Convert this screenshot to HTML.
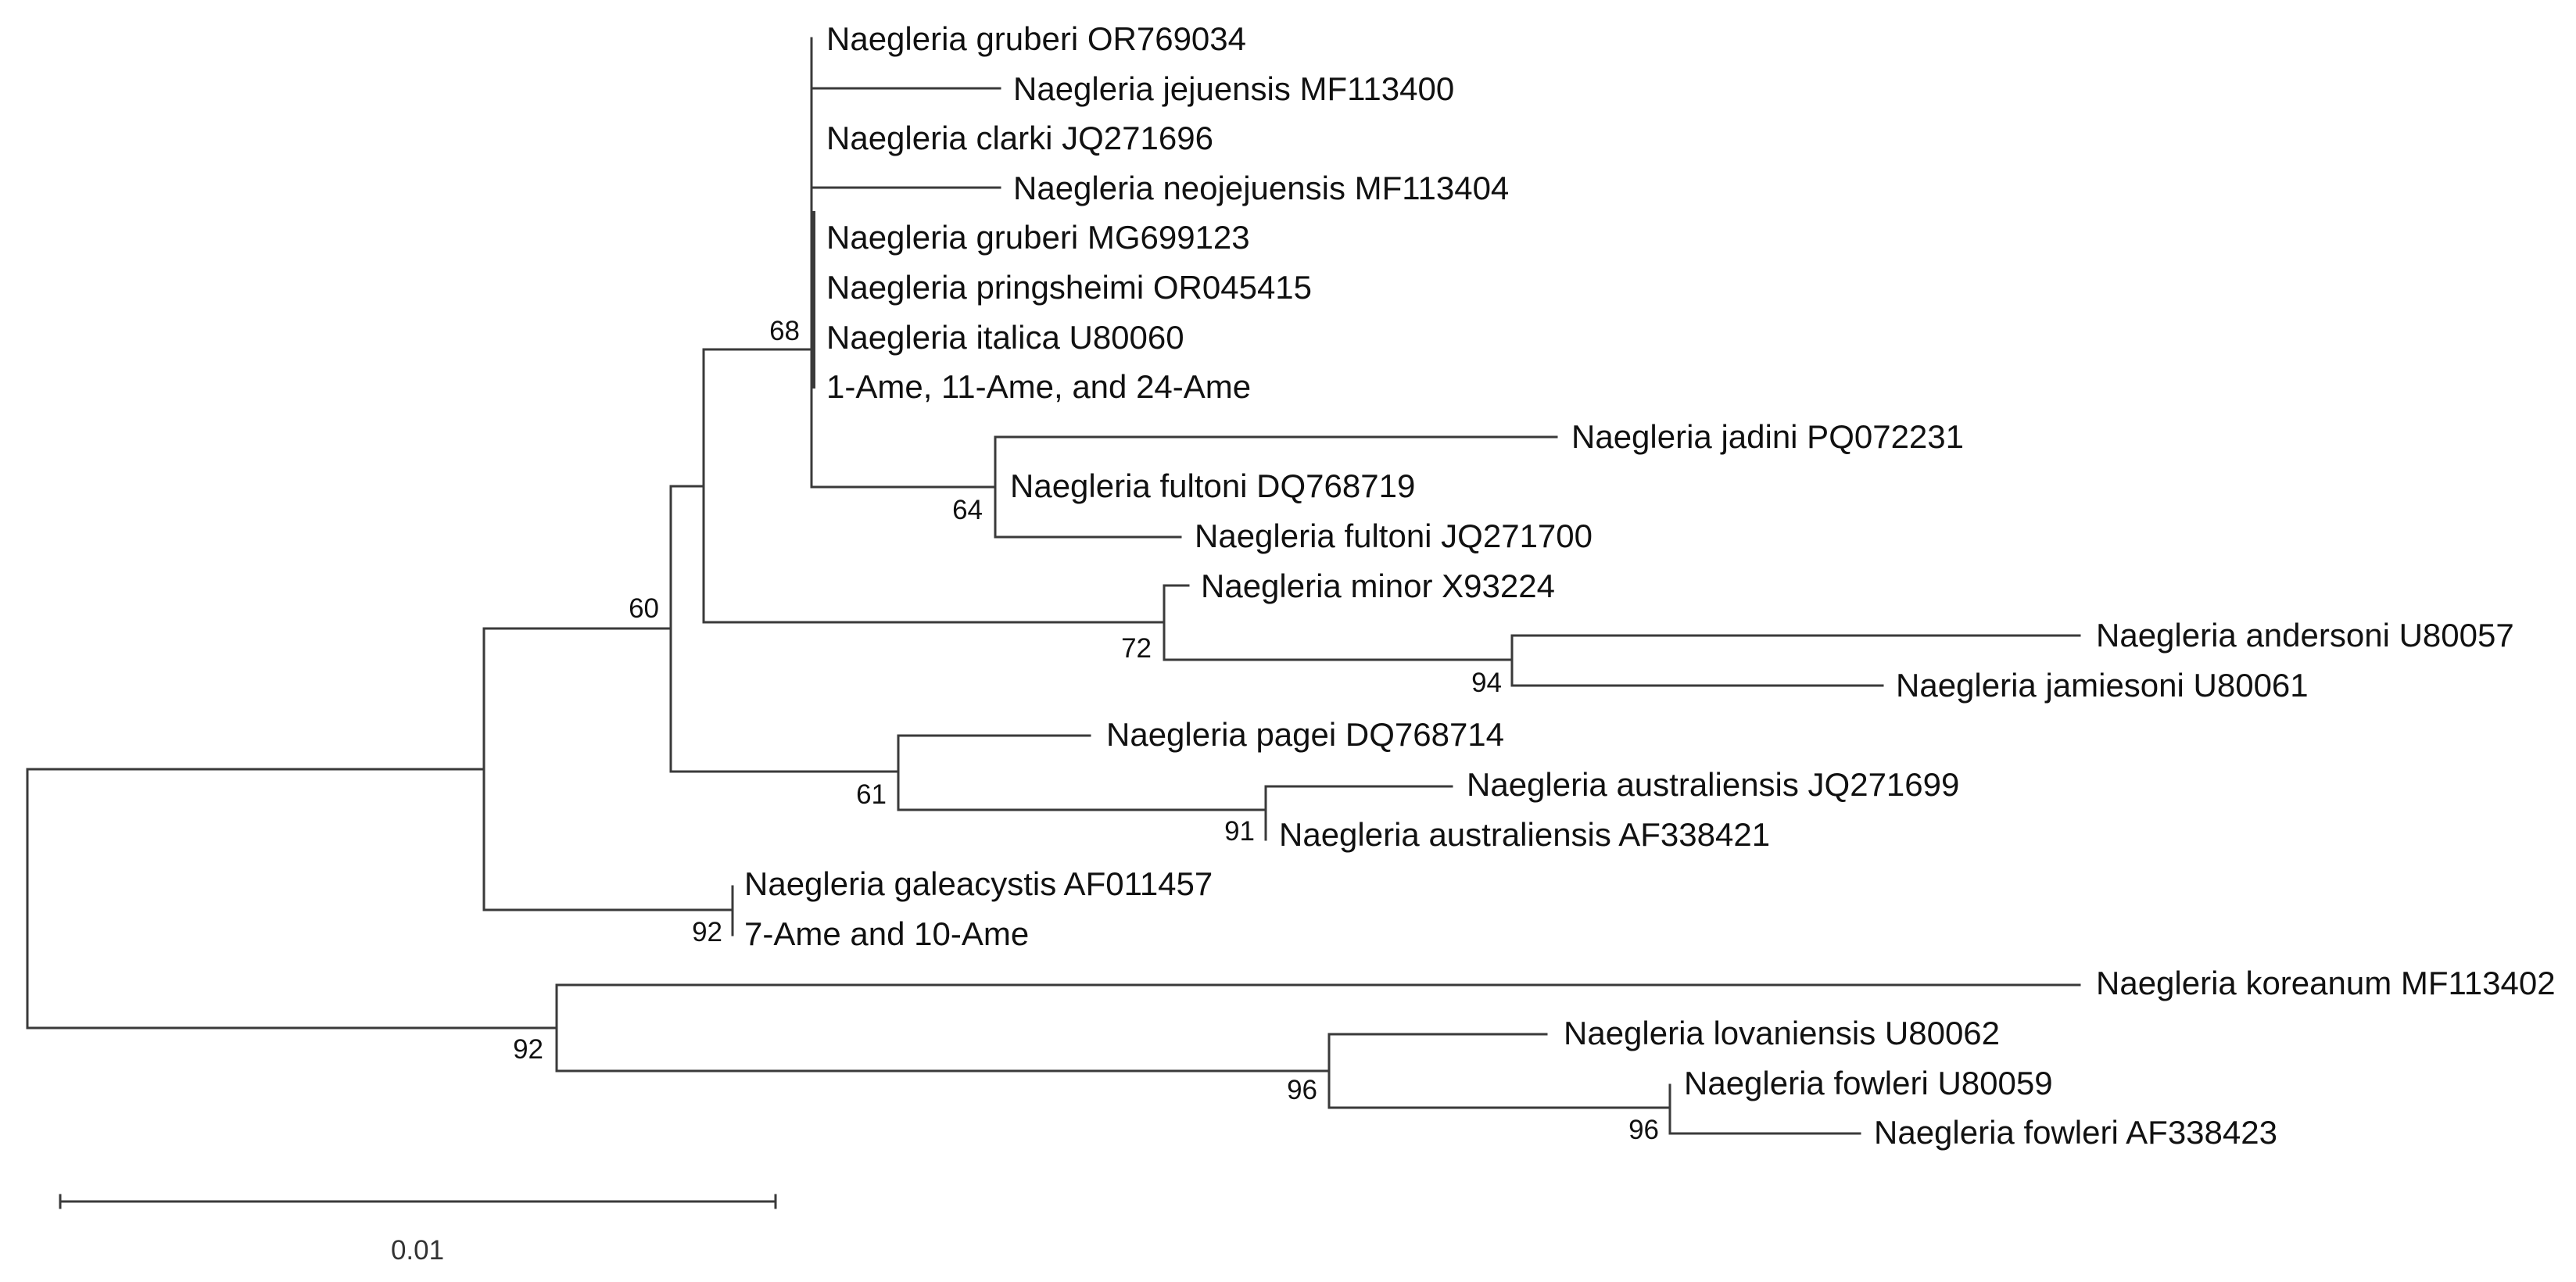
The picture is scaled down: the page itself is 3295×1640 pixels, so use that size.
<!DOCTYPE html>
<html><head><meta charset="utf-8"><style>
html,body{margin:0;padding:0;background:#fff;}
svg{display:block;}
text{font-family:"Liberation Sans",Arial,sans-serif;fill:#111;}
.l{font-size:42px;}
.b{font-size:35px;fill:#333;}
</style></head><body>
<svg width="3295" height="1640" viewBox="0 0 3295 1640" xmlns="http://www.w3.org/2000/svg">
<g stroke="#3a3a3a" stroke-width="3" fill="none" stroke-linecap="square">
<path d="M35 984 V1315"/>
<path d="M35 984 H619"/>
<path d="M35 1315 H712"/>
<path d="M619 804 V1164"/>
<path d="M619 804 H858"/>
<path d="M619 1164 H937"/>
<path d="M937 1134 V1196"/>
<path d="M858 622 V987"/>
<path d="M858 622 H900"/>
<path d="M858 987 H1149"/>
<path d="M900 447 V796"/>
<path d="M900 447 H1038"/>
<path d="M900 796 H1489"/>
<path d="M1038 49 V623"/>
<path d="M1041 272 V495" stroke-width="4"/>
<path d="M1038 113 H1279"/>
<path d="M1038 240 H1279"/>
<path d="M1038 623 H1273"/>
<path d="M1273 559 V687"/>
<path d="M1273 559 H1991"/>
<path d="M1273 687 H1510"/>
<path d="M1489 749 V844"/>
<path d="M1489 749 H1520"/>
<path d="M1489 844 H1934"/>
<path d="M1934 813 V877"/>
<path d="M1934 813 H2660"/>
<path d="M1934 877 H2408"/>
<path d="M1149 941 V1036"/>
<path d="M1149 941 H1394"/>
<path d="M1149 1036 H1619"/>
<path d="M1619 1006 V1074"/>
<path d="M1619 1006 H1857"/>
<path d="M712 1260 V1370"/>
<path d="M712 1260 H2660"/>
<path d="M712 1370 H1700"/>
<path d="M1700 1323 V1417"/>
<path d="M1700 1323 H1978"/>
<path d="M1700 1417 H2136"/>
<path d="M2136 1388 V1450"/>
<path d="M2136 1450 H2379"/>
<path d="M77 1537 H992"/>
<path d="M77 1529 V1545"/>
<path d="M992 1529 V1545"/>
</g>
<g class="l">
<text x="1057" y="64">Naegleria gruberi OR769034</text>
<text x="1296" y="128">Naegleria jejuensis MF113400</text>
<text x="1057" y="191">Naegleria clarki JQ271696</text>
<text x="1296" y="255">Naegleria neojejuensis MF113404</text>
<text x="1057" y="318">Naegleria gruberi MG699123</text>
<text x="1057" y="382">Naegleria pringsheimi OR045415</text>
<text x="1057" y="446">Naegleria italica U80060</text>
<text x="1057" y="509">1-Ame, 11-Ame, and 24-Ame</text>
<text x="2010" y="573">Naegleria jadini PQ072231</text>
<text x="1292" y="636">Naegleria fultoni DQ768719</text>
<text x="1528" y="700">Naegleria fultoni JQ271700</text>
<text x="1536" y="764">Naegleria minor X93224</text>
<text x="2681" y="827">Naegleria andersoni U80057</text>
<text x="2425" y="891">Naegleria jamiesoni U80061</text>
<text x="1415" y="954">Naegleria pagei DQ768714</text>
<text x="1876" y="1018">Naegleria australiensis JQ271699</text>
<text x="1636" y="1082">Naegleria australiensis AF338421</text>
<text x="952" y="1145">Naegleria galeacystis AF011457</text>
<text x="952" y="1209">7-Ame and 10-Ame</text>
<text x="2681" y="1272">Naegleria koreanum MF113402</text>
<text x="2000" y="1336">Naegleria lovaniensis U80062</text>
<text x="2154" y="1400">Naegleria fowleri U80059</text>
<text x="2397" y="1463">Naegleria fowleri AF338423</text>
</g>
<g class="b" text-anchor="end">
<text x="1023" y="435">68</text>
<text x="843" y="790">60</text>
<text x="1257" y="664">64</text>
<text x="1473" y="841">72</text>
<text x="1921" y="885">94</text>
<text x="1134" y="1028">61</text>
<text x="1605" y="1075">91</text>
<text x="924" y="1204">92</text>
<text x="695" y="1354">92</text>
<text x="1685" y="1406">96</text>
<text x="2122" y="1457">96</text>
</g>
<text class="b" x="534" y="1611" text-anchor="middle">0.01</text>
</svg>
</body></html>
